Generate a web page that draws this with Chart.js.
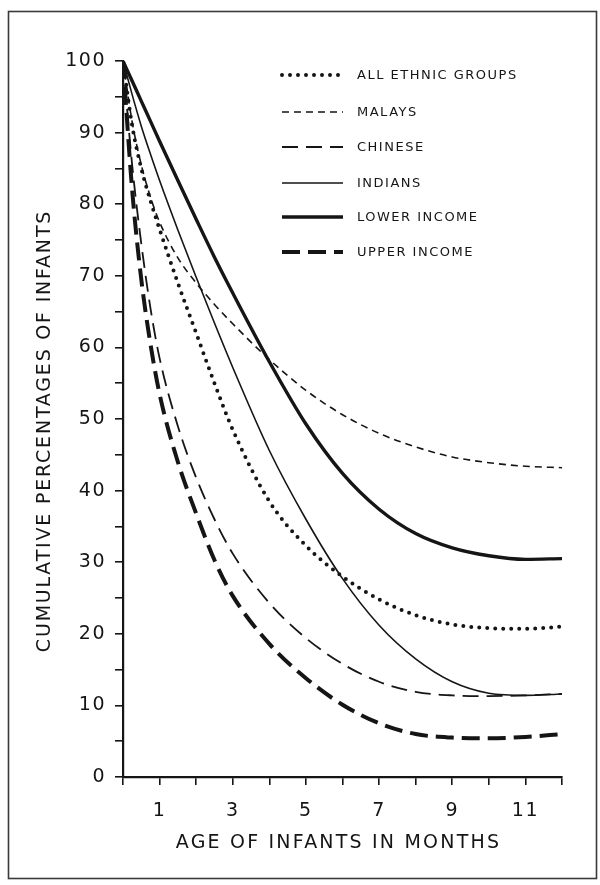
<!DOCTYPE html>
<html>
<head>
<meta charset="utf-8">
<script src="https://cdn.jsdelivr.net/npm/chart.js@4.4.1/dist/chart.umd.min.js"></script>
<style>
  html, body { margin: 0; padding: 0; background: #ffffff; }
  #wrap { position: relative; width: 600px; height: 885px; }
</style>
</head>
<body>
<div id="wrap"><canvas id="c" width="600" height="885"></canvas></div>
<script>
// ---- data ----
const months = [0, 0.25, 0.5, 0.75, 1, 1.5, 2, 2.5, 3, 4, 5, 6, 7, 8, 9, 10, 11, 12];
const allEthnic   = [100, 91, 85, 80.5, 76.5, 69, 62, 55, 48.5, 38.5, 32.3, 28.0, 24.8, 22.6, 21.3, 20.8, 20.7, 21.0];
const malays      = [100, 91.5, 85.5, 81, 77.5, 72.5, 69, 66, 63.3, 58.3, 54, 50.6, 48.0, 46.1, 44.7, 43.9, 43.4, 43.2];
const chinese     = [100, 85.5, 74.5, 65.5, 58.5, 49, 41.8, 36, 31.2, 24.3, 19.4, 15.8, 13.3, 11.9, 11.4, 11.3, 11.4, 11.6];
const indians     = [100, 95.3, 90.9, 87.0, 83.3, 76.4, 69.8, 63.4, 57.2, 45.6, 36.0, 27.7, 21.2, 16.5, 13.3, 11.7, 11.4, 11.6];
const lowerIncome = [100, 97.2, 94.4, 91.6, 88.8, 83.3, 77.9, 72.6, 67.6, 58.0, 49.3, 42.4, 37.4, 34.0, 32.0, 30.9, 30.4, 30.5];
const upperIncome = [100, 82, 69.5, 60.5, 53.5, 44, 36.8, 30.3, 25.3, 18.6, 13.8, 10.1, 7.5, 6.0, 5.5, 5.4, 5.6, 6.0];
const seriesNames = ['ALL ETHNIC GROUPS', 'MALAYS', 'CHINESE', 'INDIANS', 'LOWER INCOME', 'UPPER INCOME'];
const xTickLabels = ['1', '3', '5', '7', '9', '11'];
const yTickLabels = ['0', '10', '20', '30', '40', '50', '60', '70', '80', '90', '100'];
const xTitle = 'AGE OF INFANTS IN MONTHS';
const yTitle = 'CUMULATIVE PERCENTAGES OF INFANTS';

// ---- styles ----
const INK = '#151515';
const FONT = "'DejaVu Sans', 'Liberation Sans', sans-serif";
const styles = [
  { borderWidth: 4,   borderDash: [0, 8],   borderCapStyle: 'round' },
  { borderWidth: 1.6, borderDash: [7, 5],   borderCapStyle: 'butt' },
  { borderWidth: 1.8, borderDash: [16, 8],  borderCapStyle: 'butt' },
  { borderWidth: 1.6, borderDash: [],       borderCapStyle: 'butt' },
  { borderWidth: 3.4, borderDash: [],       borderCapStyle: 'butt' },
  { borderWidth: 4,   borderDash: [18, 8],  borderCapStyle: 'butt' }
];
const seriesValues = [allEthnic, malays, chinese, indians, lowerIncome, upperIncome];

const datasets = seriesValues.map((vals, i) => Object.assign({
  label: seriesNames[i],
  data: months.map((m, j) => ({ x: m, y: vals[j] })),
  borderColor: INK,
  backgroundColor: INK,
  fill: false,
  pointRadius: 0,
  pointHoverRadius: 0,
  cubicInterpolationMode: 'monotone'
}, styles[i]));

const decorPlugin = {
  id: 'decor',
  beforeDraw(chart) {
    const ctx = chart.ctx;
    ctx.save();
    ctx.fillStyle = '#ffffff';
    ctx.fillRect(0, 0, chart.width, chart.height);
    ctx.restore();
    ctx.letterSpacing = '1.5px'; // wider tick digits like the reference
  },
  afterDraw(chart) {
    const ctx = chart.ctx;
    const area = chart.chartArea;
    ctx.letterSpacing = '0px';
    // outer frame
    ctx.save();
    ctx.strokeStyle = '#3a3a3a';
    ctx.lineWidth = 1.6;
    ctx.strokeRect(8.5, 11.5, 588, 867);
    ctx.restore();

    // axis titles
    ctx.save();
    ctx.fillStyle = INK;
    ctx.textAlign = 'center';
    ctx.textBaseline = 'middle';
    ctx.font = "19px " + FONT;
    ctx.letterSpacing = '2.2px';
    ctx.fillText(xTitle, (area.left + area.right) / 2 - 4, 843);
    ctx.translate(45, 431);
    ctx.rotate(-Math.PI / 2);
    ctx.letterSpacing = '1.8px';
    ctx.fillText(yTitle, 0, 0);
    ctx.restore();

    // legend inside plot
    const rows = [75, 112, 147, 183, 217, 252];
    chart.data.datasets.forEach((ds, i) => {
      const y = rows[i];
      ctx.save();
      ctx.strokeStyle = ds.borderColor;
      ctx.lineWidth = ds.borderWidth;
      ctx.setLineDash(ds.borderDash || []);
      ctx.lineCap = ds.borderCapStyle || 'butt';
      ctx.beginPath();
      ctx.moveTo(282, y);
      ctx.lineTo(343, y);
      ctx.stroke();
      ctx.restore();
      ctx.save();
      ctx.fillStyle = INK;
      ctx.font = "13px " + FONT;
      ctx.letterSpacing = '1.5px';
      ctx.textAlign = 'left';
      ctx.textBaseline = 'middle';
      ctx.fillText(ds.label, 357, y + 1);
      ctx.restore();
    });
  }
};

new Chart(document.getElementById('c'), {
  type: 'line',
  data: { datasets },
  options: {
    responsive: false,
    devicePixelRatio: 1,
    animation: false,
    events: [],
    layout: { padding: { left: 10, right: 38, top: 61, bottom: 0 } },
    plugins: { legend: { display: false }, tooltip: { enabled: false }, title: { display: false } },
    scales: {
      x: {
        type: 'linear',
        min: 0, max: 12,
        afterFit(s) { s.height = 108; },
        ticks: {
          stepSize: 1, autoSkip: false, maxRotation: 0,
          padding: 15,
          color: INK,
          font: { family: FONT, size: 19 },
          callback: (v) => xTickLabels.includes(String(v)) ? String(v) : ''
        },
        grid: { drawOnChartArea: false, drawTicks: true, tickLength: 8, color: INK, lineWidth: 1.6 },
        border: { display: true, color: INK, width: 2.2 }
      },
      y: {
        type: 'linear',
        min: 0, max: 100,
        afterFit(s) { s.width = 113; },
        ticks: {
          stepSize: 5, autoSkip: false,
          padding: 9,
          color: INK,
          font: { family: FONT, size: 19 },
          callback: (v) => yTickLabels.includes(String(v)) ? String(v) : ''
        },
        grid: { drawOnChartArea: false, drawTicks: true, tickLength: 8, color: INK, lineWidth: 1.6 },
        border: { display: true, color: INK, width: 2.2 }
      }
    }
  },
  plugins: [decorPlugin]
});
</script>
</body>
</html>
